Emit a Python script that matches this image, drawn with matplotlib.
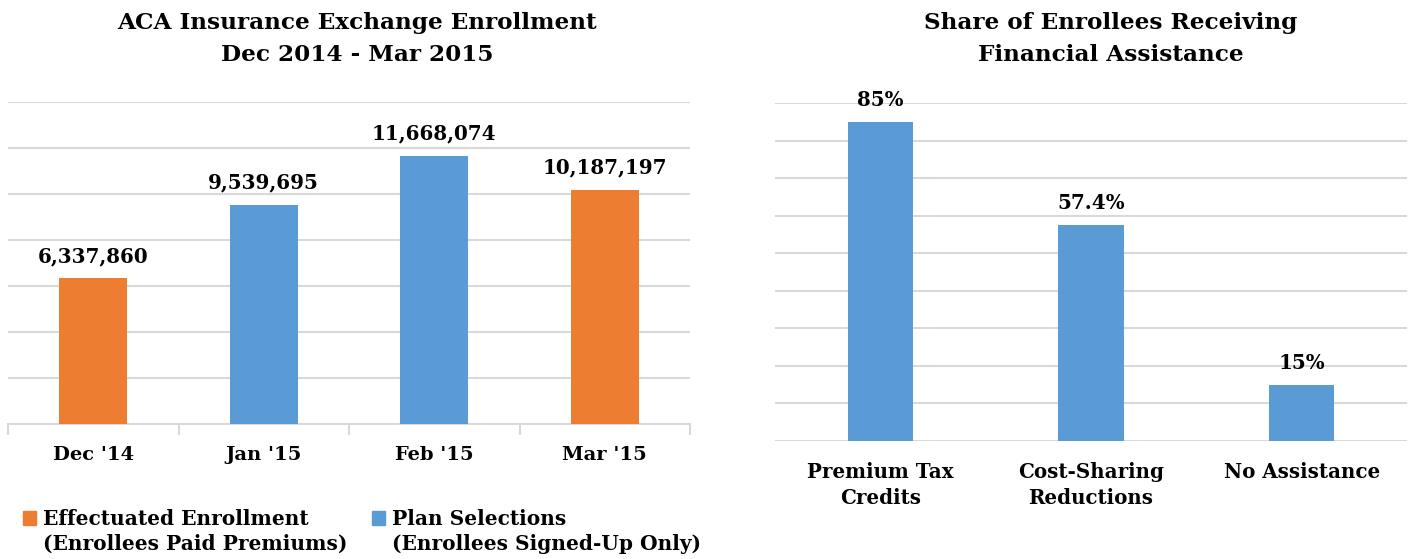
"""ACA enrollment and financial assistance share, two bar panels."""
import matplotlib
matplotlib.use('Agg')
import matplotlib.pyplot as plt
from matplotlib.patches import Patch
from matplotlib.ticker import MultipleLocator

plt.rcParams['font.family'] = ['DejaVu Serif']
plt.rcParams['font.weight'] = 'bold'

ORANGE = '#ED7D31'
BLUE = '#5B9BD5'
GRID = '#D9D9D9'

# left panel data
months = ["Dec '14", "Jan '15", "Feb '15", "Mar '15"]
enrollment = [6337860, 9539695, 11668074, 10187197]
kinds = ['effectuated', 'selections', 'selections', 'effectuated']

# right panel data
assist_labels = ['Premium Tax\nCredits', 'Cost-Sharing\nReductions', 'No Assistance']
assist_share = [85, 57.4, 15]
assist_text = ['85%', '57.4%', '15%']

KIND_COLORS = {'effectuated': ORANGE, 'selections': BLUE}

W, H = 1411, 559
fig = plt.figure(figsize=(W / 100, H / 100), dpi=100)

# --- left: enrollment
ax1 = fig.add_axes([8 / W, 1 - 424 / H, 682 / W, 322 / H])
x1 = range(len(months))
colors = [KIND_COLORS[k] for k in kinds]
bars = ax1.bar(x1, enrollment, width=0.4, color=colors, zorder=3)
for b, v in zip(bars, enrollment):
    ax1.annotate(f'{v:,}', (b.get_x() + b.get_width() / 2, v),
                 textcoords='offset points', xytext=(0, 11.5), ha='center',
                 va='baseline', fontsize=14.3, fontweight='bold')
ax1.set_ylim(0, 14000000)
ax1.set_xlim(-0.5, len(months) - 0.5)
ax1.yaxis.set_major_locator(MultipleLocator(2000000))
ax1.grid(axis='y', color=GRID, linewidth=1.5, zorder=0)
ax1.set_yticklabels([])
ax1.tick_params(axis='y', length=0)
ax1.set_xticks(list(x1))
ax1.set_xticklabels(months, fontsize=14, fontweight='bold')
ax1.tick_params(axis='x', length=0, pad=16)
ax1.set_xticks([i - 0.5 for i in range(len(months) + 1)], minor=True)
ax1.tick_params(axis='x', which='minor', length=8, color=GRID, width=1.5, direction='out')
for s in ['top', 'right', 'left']:
    ax1.spines[s].set_visible(False)
ax1.spines['bottom'].set_color(GRID)
ax1.spines['bottom'].set_linewidth(1.5)
fig.text(357 / W, 1 - 39 / H, 'ACA Insurance Exchange Enrollment\nDec 2014 - Mar 2015',
         ha='center', va='center', fontsize=16.7, fontweight='bold', linespacing=1.55)

handles = [Patch(color=ORANGE), Patch(color='none'), Patch(color=BLUE), Patch(color='none')]
labels = ['Effectuated Enrollment', '(Enrollees Paid Premiums)',
          'Plan Selections', '(Enrollees Signed-Up Only)']
fig.legend(handles, labels, ncol=2, loc='upper left', bbox_to_anchor=(23 / W, 1 - 509 / H),
           frameon=False, handlelength=0.65, handleheight=0.65, borderpad=0,
           borderaxespad=0, handletextpad=0.35, labelspacing=0.25, columnspacing=1.2,
           prop={'family': 'DejaVu Serif', 'weight': 'bold', 'size': 14.5})

# --- right: financial assistance
ax2 = fig.add_axes([775 / W, 1 - 441 / H, 632 / W, 338 / H])
x2 = range(len(assist_labels))
bars2 = ax2.bar(x2, assist_share, width=0.31, color=BLUE, zorder=3)
for b, v, t in zip(bars2, assist_share, assist_text):
    ax2.annotate(t, (b.get_x() + b.get_width() / 2, v),
                 textcoords='offset points', xytext=(0, 11.5), ha='center',
                 va='baseline', fontsize=14.3, fontweight='bold')
ax2.set_ylim(0, 90)
ax2.set_xlim(-0.5, len(assist_labels) - 0.5)
ax2.yaxis.set_major_locator(MultipleLocator(10))
ax2.grid(axis='y', color=GRID, linewidth=1.5, zorder=0)
ax2.set_yticklabels([])
ax2.tick_params(axis='y', length=0)
ax2.set_xticks(list(x2))
ax2.set_xticklabels(assist_labels, fontsize=14.3, fontweight='bold', va='top', linespacing=1.4)
ax2.tick_params(axis='x', length=0, pad=15)
for s in ax2.spines.values():
    s.set_visible(False)
fig.text(1111 / W, 1 - 39 / H, 'Share of Enrollees Receiving\nFinancial Assistance',
         ha='center', va='center', fontsize=16.7, fontweight='bold', linespacing=1.55)

fig.savefig('out.png', dpi=100)
